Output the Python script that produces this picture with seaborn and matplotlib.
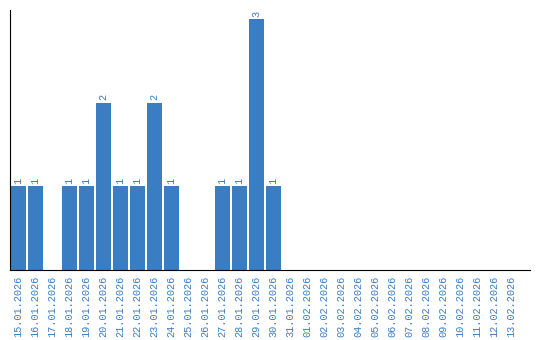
import matplotlib
matplotlib.use("Agg")
import matplotlib.pyplot as plt
import seaborn as sns
import pandas as pd

dates = ["15.01.2026", "16.01.2026", "17.01.2026", "18.01.2026", "19.01.2026",
         "20.01.2026", "21.01.2026", "22.01.2026", "23.01.2026", "24.01.2026",
         "25.01.2026", "26.01.2026", "27.01.2026", "28.01.2026", "29.01.2026",
         "30.01.2026", "31.01.2026", "01.02.2026", "02.02.2026", "03.02.2026",
         "04.02.2026", "05.02.2026", "06.02.2026", "07.02.2026", "08.02.2026",
         "09.02.2026", "10.02.2026", "11.02.2026", "12.02.2026", "13.02.2026"]
counts = [1, 1, 0, 1, 1, 2, 1, 1, 2, 1, 0, 0, 1, 1, 3, 1,
          0, 0, 0, 0, 0, 0, 0, 0, 0, 0, 0, 0, 0, 0]

BLUE = "#3a7dc2"
df = pd.DataFrame({"date": dates, "count": counts})

sns.set_style("white")
plt.rcParams["font.family"] = ["Liberation Mono", "DejaVu Sans Mono"]

fig = plt.figure(figsize=(5.4, 3.4), dpi=100)
ax = fig.add_axes([10/540, 70/340, 520/540, 260/340])
sns.barplot(data=df, x="date", y="count", color=BLUE, saturation=1, width=0.84,
            linewidth=0, edgecolor="none", ax=ax)

for i, v in enumerate(counts):
    if v > 0:
        ax.text(i, v + 0.03, str(v), rotation=90, ha="center", va="bottom",
                fontsize=7.4, color=BLUE)

ax.set_xlim(-0.5, len(dates) - 0.5 + 10/17)
ax.set_ylim(0, 3.11)
ax.set_xlabel("")
ax.set_ylabel("")
ax.set_yticks([])
ax.tick_params(axis="x", length=0, pad=4)
ax.set_xticks(range(len(dates)))
ax.set_xticklabels(dates, rotation=90, fontsize=7.4, color=BLUE)
for s in ["top", "right"]:
    ax.spines[s].set_visible(False)
for s in ["left", "bottom"]:
    ax.spines[s].set_color("black")
    ax.spines[s].set_linewidth(0.8)

fig.savefig("out.png", dpi=100)
